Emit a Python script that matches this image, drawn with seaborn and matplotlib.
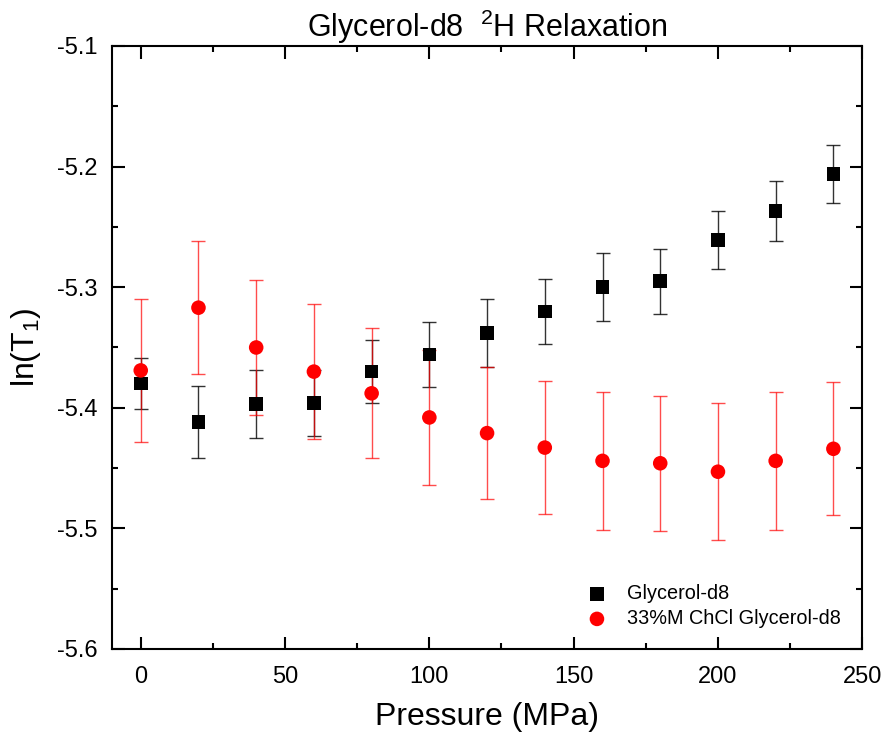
import numpy as np
import pandas as pd
import matplotlib
matplotlib.use('Agg')
import matplotlib.pyplot as plt
from matplotlib.ticker import MultipleLocator
import seaborn as sns

# values
pressure = [0, 20, 40, 60, 80, 100, 120, 140, 160, 180, 200, 220, 240]
gly = [-5.380, -5.412, -5.397, -5.396, -5.370, -5.356, -5.338, -5.320,
       -5.300, -5.295, -5.261, -5.237, -5.206]
gly_err = [0.021, 0.030, 0.028, 0.027, 0.026, 0.027, 0.028, 0.027,
           0.028, 0.027, 0.024, 0.025, 0.024]
chcl = [-5.369, -5.317, -5.350, -5.370, -5.388, -5.408, -5.421, -5.433,
        -5.444, -5.446, -5.453, -5.444, -5.434]
chcl_err = [0.059, 0.055, 0.056, 0.056, 0.054, 0.056, 0.055, 0.055,
            0.057, 0.056, 0.057, 0.057, 0.055]

df = pd.DataFrame({'P': pressure, 'gly': gly, 'chcl': chcl})

sns.set_style('ticks')
plt.rcParams['font.family'] = ['Liberation Sans', 'DejaVu Sans']
plt.rcParams['mathtext.fontset'] = 'custom'
plt.rcParams['mathtext.rm'] = 'Liberation Sans'
plt.rcParams['mathtext.it'] = 'Liberation Sans'
plt.rcParams['axes.unicode_minus'] = False
plt.rcParams['text.color'] = 'black'
plt.rcParams['axes.labelcolor'] = 'black'
plt.rcParams['xtick.color'] = 'black'
plt.rcParams['ytick.color'] = 'black'
plt.rcParams['axes.edgecolor'] = 'black'

fig = plt.figure(figsize=(8.88, 7.38), dpi=100)
ax = fig.add_axes([0.126, 0.1206, 0.845, 0.8171])

# error bars first, markers on top
ax.errorbar(pressure, gly, yerr=gly_err, fmt='none', ecolor='black',
            elinewidth=1, capsize=5, capthick=1, alpha=0.8, zorder=2)
ax.errorbar(pressure, chcl, yerr=chcl_err, fmt='none', ecolor='red',
            elinewidth=1, capsize=5, capthick=1, alpha=0.7, zorder=2)

sns.scatterplot(data=df, x='P', y='gly', marker='s', color='black', s=95,
                edgecolor='none', label='Glycerol-d8', ax=ax, zorder=3)
sns.scatterplot(data=df, x='P', y='chcl', marker='o', color='red', s=110,
                edgecolor='none', label='33%M ChCl Glycerol-d8', ax=ax, zorder=3)

ax.set_xlim(-10, 250)
ax.set_ylim(-5.6, -5.1)
ax.xaxis.set_major_locator(MultipleLocator(50))
ax.xaxis.set_minor_locator(MultipleLocator(25))
ax.yaxis.set_major_locator(MultipleLocator(0.1))
ax.yaxis.set_minor_locator(MultipleLocator(0.05))
ax.tick_params(which='both', direction='in', top=True, right=True,
               width=1.5, labelsize=17)
ax.tick_params(axis='x', pad=12)
ax.tick_params(axis='y', pad=10)
ax.tick_params(which='major', length=9)
ax.tick_params(which='minor', length=4.5)
for sp in ax.spines.values():
    sp.set_linewidth(1.5)

ax.set_xlabel('Pressure (MPa)', fontsize=23, labelpad=10)
ax.set_ylabel('ln(T$_1$)', fontsize=23, labelpad=10)
ax.set_title('Glycerol-d8  $^2$H Relaxation', fontsize=22, pad=6)

ax.legend(loc='lower right', frameon=False, fontsize=14.3, markerscale=1.0,
          bbox_to_anchor=(0.995, 0.005), handletextpad=0.5, labelspacing=0.3)

fig.savefig('out.png', dpi=100)
